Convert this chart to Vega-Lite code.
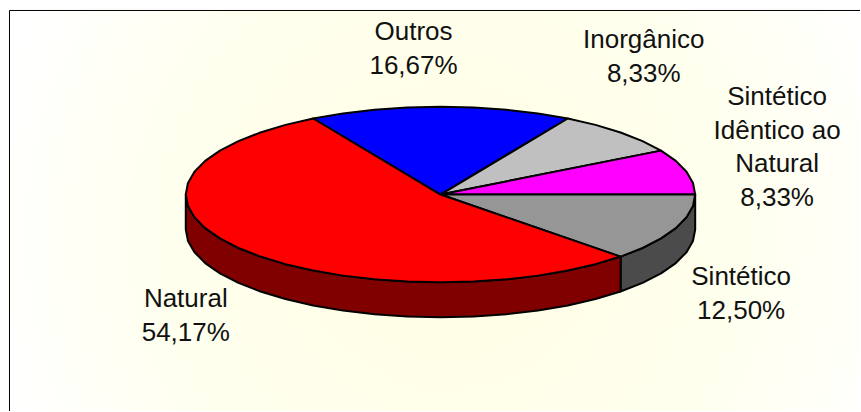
{"$schema":"https://vega.github.io/schema/vega-lite/v6.json","width":861,"height":412,"padding":0,"autosize":{"type":"fit","contains":"padding"},"background":"#ffffff","config":{"view":{"stroke":null}},
"datasets":{
"frame":[{"x":-431.5,"x2":-431.5,"y":184.5,"y2":-217},{"x":-431.5,"x2":420,"y":184.5,"y2":184.5}],
"panel":[{"x":-431,"x2":420,"y":184,"y2":-217}],
"labels":[{"x":-27,"y":162.5,"label":"Outros\n16,67%"},{"x":203.5,"y":154.5,"label":"Inorgânico\n8,33%"},{"x":337,"y":97.5,"label":"Sintético\nIdêntico ao\nNatural\n8,33%"},{"x":301,"y":-83,"label":"Sintético\n12,50%"},{"x":-255,"y":-105,"label":"Natural\n54,17%"}],
"slices":[
{"s":"Sintético lado","i":0,"x":255,"y":0},{"s":"Sintético lado","i":1,"x":252.8,"y":-11.5},{"s":"Sintético lado","i":2,"x":246.3,"y":-22.8},{"s":"Sintético lado","i":3,"x":235.6,"y":-33.7},{"s":"Sintético lado","i":4,"x":220.8,"y":-44},{"s":"Sintético lado","i":5,"x":202.3,"y":-53.6},{"s":"Sintético lado","i":6,"x":180.3,"y":-62.2},{"s":"Sintético lado","i":7,"x":180.3,"y":-97.2},{"s":"Sintético lado","i":8,"x":202.3,"y":-88.6},{"s":"Sintético lado","i":9,"x":220.8,"y":-79},{"s":"Sintético lado","i":10,"x":235.6,"y":-68.7},{"s":"Sintético lado","i":11,"x":246.3,"y":-57.8},{"s":"Sintético lado","i":12,"x":252.8,"y":-46.5},{"s":"Sintético lado","i":13,"x":255,"y":-35},{"s":"Sintético lado","i":14,"x":255,"y":0},
{"s":"Natural lado","i":0,"x":180.3,"y":-62.2},{"s":"Natural lado","i":1,"x":155.2,"y":-69.8},{"s":"Natural lado","i":2,"x":127.5,"y":-76.2},{"s":"Natural lado","i":3,"x":97.6,"y":-81.3},{"s":"Natural lado","i":4,"x":66,"y":-85},{"s":"Natural lado","i":5,"x":33.3,"y":-87.2},{"s":"Natural lado","i":6,"x":0,"y":-88},{"s":"Natural lado","i":7,"x":-33.3,"y":-87.2},{"s":"Natural lado","i":8,"x":-66,"y":-85},{"s":"Natural lado","i":9,"x":-97.6,"y":-81.3},{"s":"Natural lado","i":10,"x":-127.5,"y":-76.2},{"s":"Natural lado","i":11,"x":-155.2,"y":-69.8},{"s":"Natural lado","i":12,"x":-180.3,"y":-62.2},{"s":"Natural lado","i":13,"x":-202.3,"y":-53.6},{"s":"Natural lado","i":14,"x":-220.8,"y":-44},{"s":"Natural lado","i":15,"x":-235.6,"y":-33.7},{"s":"Natural lado","i":16,"x":-246.3,"y":-22.8},{"s":"Natural lado","i":17,"x":-252.8,"y":-11.5},{"s":"Natural lado","i":18,"x":-255,"y":0},
{"s":"Natural lado","i":19,"x":-255,"y":-35},{"s":"Natural lado","i":20,"x":-252.8,"y":-46.5},{"s":"Natural lado","i":21,"x":-246.3,"y":-57.8},{"s":"Natural lado","i":22,"x":-235.6,"y":-68.7},{"s":"Natural lado","i":23,"x":-220.8,"y":-79},{"s":"Natural lado","i":24,"x":-202.3,"y":-88.6},{"s":"Natural lado","i":25,"x":-180.3,"y":-97.2},{"s":"Natural lado","i":26,"x":-155.2,"y":-104.8},{"s":"Natural lado","i":27,"x":-127.5,"y":-111.2},{"s":"Natural lado","i":28,"x":-97.6,"y":-116.3},{"s":"Natural lado","i":29,"x":-66,"y":-120},{"s":"Natural lado","i":30,"x":-33.3,"y":-122.2},{"s":"Natural lado","i":31,"x":0,"y":-123},{"s":"Natural lado","i":32,"x":33.3,"y":-122.2},{"s":"Natural lado","i":33,"x":66,"y":-120},{"s":"Natural lado","i":34,"x":97.6,"y":-116.3},{"s":"Natural lado","i":35,"x":127.5,"y":-111.2},{"s":"Natural lado","i":36,"x":155.2,"y":-104.8},{"s":"Natural lado","i":37,"x":180.3,"y":-97.2},{"s":"Natural lado","i":38,"x":180.3,"y":-62.2},
{"s":"Outros","i":0,"x":0,"y":0},{"s":"Outros","i":1,"x":127.5,"y":76.2},{"s":"Outros","i":2,"x":97.6,"y":81.3},{"s":"Outros","i":3,"x":66,"y":85},{"s":"Outros","i":4,"x":33.3,"y":87.2},{"s":"Outros","i":5,"x":0,"y":88},{"s":"Outros","i":6,"x":-33.3,"y":87.2},{"s":"Outros","i":7,"x":-66,"y":85},{"s":"Outros","i":8,"x":-97.6,"y":81.3},{"s":"Outros","i":9,"x":-127.5,"y":76.2},{"s":"Outros","i":10,"x":0,"y":0},
{"s":"Inorgânico","i":0,"x":0,"y":0},{"s":"Inorgânico","i":1,"x":220.8,"y":44},{"s":"Inorgânico","i":2,"x":202.3,"y":53.6},{"s":"Inorgânico","i":3,"x":180.3,"y":62.2},{"s":"Inorgânico","i":4,"x":155.2,"y":69.8},{"s":"Inorgânico","i":5,"x":127.5,"y":76.2},{"s":"Inorgânico","i":6,"x":0,"y":0},
{"s":"Sintético Idêntico ao Natural","i":0,"x":0,"y":0},{"s":"Sintético Idêntico ao Natural","i":1,"x":255,"y":0},{"s":"Sintético Idêntico ao Natural","i":2,"x":252.8,"y":11.5},{"s":"Sintético Idêntico ao Natural","i":3,"x":246.3,"y":22.8},{"s":"Sintético Idêntico ao Natural","i":4,"x":235.6,"y":33.7},{"s":"Sintético Idêntico ao Natural","i":5,"x":220.8,"y":44},{"s":"Sintético Idêntico ao Natural","i":6,"x":0,"y":0},
{"s":"Sintético","i":0,"x":0,"y":0},{"s":"Sintético","i":1,"x":255,"y":0},{"s":"Sintético","i":2,"x":252.8,"y":-11.5},{"s":"Sintético","i":3,"x":246.3,"y":-22.8},{"s":"Sintético","i":4,"x":235.6,"y":-33.7},{"s":"Sintético","i":5,"x":220.8,"y":-44},{"s":"Sintético","i":6,"x":202.3,"y":-53.6},{"s":"Sintético","i":7,"x":180.3,"y":-62.2},{"s":"Sintético","i":8,"x":0,"y":0},
{"s":"Natural","i":0,"x":0,"y":0},{"s":"Natural","i":1,"x":-127.5,"y":76.2},{"s":"Natural","i":2,"x":-155.2,"y":69.8},{"s":"Natural","i":3,"x":-180.3,"y":62.2},{"s":"Natural","i":4,"x":-202.3,"y":53.6},{"s":"Natural","i":5,"x":-220.8,"y":44},{"s":"Natural","i":6,"x":-235.6,"y":33.7},{"s":"Natural","i":7,"x":-246.3,"y":22.8},{"s":"Natural","i":8,"x":-252.8,"y":11.5},{"s":"Natural","i":9,"x":-255,"y":0},{"s":"Natural","i":10,"x":-252.8,"y":-11.5},{"s":"Natural","i":11,"x":-246.3,"y":-22.8},{"s":"Natural","i":12,"x":-235.6,"y":-33.7},{"s":"Natural","i":13,"x":-220.8,"y":-44},{"s":"Natural","i":14,"x":-202.3,"y":-53.6},{"s":"Natural","i":15,"x":-180.3,"y":-62.2},{"s":"Natural","i":16,"x":-155.2,"y":-69.8},{"s":"Natural","i":17,"x":-127.5,"y":-76.2},{"s":"Natural","i":18,"x":-97.6,"y":-81.3},{"s":"Natural","i":19,"x":-66,"y":-85},{"s":"Natural","i":20,"x":-33.3,"y":-87.2},{"s":"Natural","i":21,"x":0,"y":-88},{"s":"Natural","i":22,"x":33.3,"y":-87.2},{"s":"Natural","i":23,"x":66,"y":-85},{"s":"Natural","i":24,"x":97.6,"y":-81.3},{"s":"Natural","i":25,"x":127.5,"y":-76.2},{"s":"Natural","i":26,"x":155.2,"y":-69.8},{"s":"Natural","i":27,"x":180.3,"y":-62.2},{"s":"Natural","i":28,"x":0,"y":0}
]},
"encoding":{
"x":{"field":"x","type":"quantitative","scale":{"domain":[-441,420],"nice":false,"zero":false},"axis":null},
"y":{"field":"y","type":"quantitative","scale":{"domain":[-217,195],"nice":false,"zero":false},"axis":null}
},
"layer":[
{"data":{"name":"panel"},"mark":{"type":"rect","fill":{"gradient":"radial","x1":0.52,"y1":0.53,"x2":0.52,"y2":0.53,"r1":0,"r2":0.56,"stops":[{"offset":0,"color":"#ffffe4"},{"offset":0.6,"color":"#ffffee"},{"offset":1,"color":"#ffffff"}]}},"encoding":{"x2":{"field":"x2"},"y2":{"field":"y2"}}},
{"data":{"name":"frame"},"mark":{"type":"rule","color":"#000000","strokeWidth":1},"encoding":{"x2":{"field":"x2"},"y2":{"field":"y2"}}},
{"data":{"name":"slices"},"mark":{"type":"line","stroke":"#000000","strokeWidth":2,"strokeJoin":"round"},"encoding":{
"order":{"field":"i","type":"quantitative"},
"detail":{"field":"s"},
"fill":{"field":"s","type":"nominal","legend":null,"scale":{"domain":["Natural","Outros","Inorgânico","Sintético Idêntico ao Natural","Sintético","Natural lado","Sintético lado"],"range":["#ff0000","#0000ff","#c0c0c0","#ff00ff","#969696","#800000","#4b4b4b"]}}}},
{"data":{"name":"labels"},"mark":{"type":"text","font":"Liberation Sans","fontSize":26,"lineBreak":"\n","lineHeight":33.5,"align":"center","baseline":"middle","color":"#111111"},"encoding":{"text":{"field":"label"}}}
]}
